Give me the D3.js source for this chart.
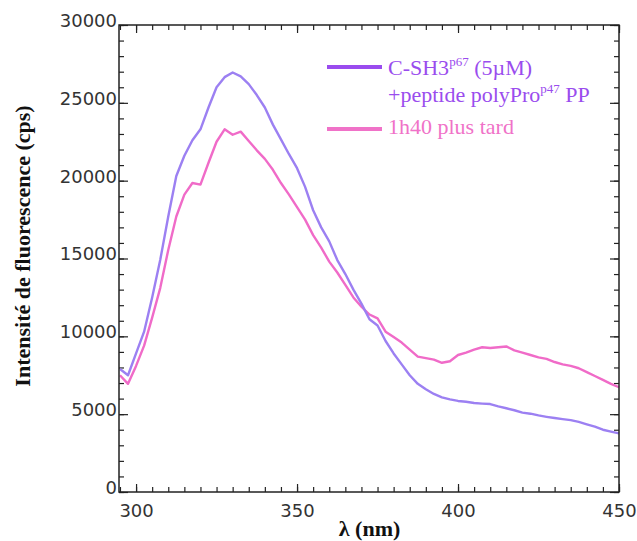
<!DOCTYPE html>
<html>
<head>
<meta charset="utf-8">
<script src="https://cdn.jsdelivr.net/npm/d3@7"></script>
<style>
  body { margin: 0; background: #ffffff; }
  svg { display: block; }
</style>
</head>
<body>
<div id="chart"></div>
<script>
"use strict";

// wavelengths (nm), one reading every 2.5 nm
const wavelengths = d3.range(295, 450.01, 2.5);

// C-SH3 p67 (5uM) + peptide polyPro p47 PP
const sh3Peptide = [
  7900, 7500, 8900, 10300, 12500, 14900, 17700, 20300, 21600, 22600,
  23300, 24700, 26000, 26650, 26950, 26700, 26200, 25500, 24700, 23600,
  22650, 21700, 20800, 19600, 18100, 17000, 16100, 14900, 14000, 13000,
  12100, 11100, 10700, 9700, 8900, 8200, 7500, 6950, 6600, 6300,
  6080, 5950, 5850, 5800, 5720, 5680, 5650, 5500, 5380, 5250,
  5100, 5030, 4920, 4830, 4750, 4680, 4620, 4500, 4350, 4200,
  4000, 3880, 3770
];

// 1h40 plus tard
const later = [
  7500, 6950, 8100, 9400, 11200, 13100, 15550, 17700, 19100, 19850,
  19750, 21150, 22500, 23300, 22950, 23150, 22550, 21950, 21400, 20700,
  19850, 19100, 18300, 17500, 16500, 15700, 14800, 14100, 13300, 12500,
  11900, 11400, 11150, 10300, 9950, 9600, 9150, 8700, 8600, 8500,
  8300, 8400, 8800, 8950, 9150, 9300, 9250, 9300, 9350, 9100,
  8950, 8800, 8650, 8550, 8350, 8200, 8100, 7950, 7700, 7450,
  7200, 6950, 6730
];

const xMajor = [300, 350, 400, 450];
const xMinor = d3.range(295, 450.01, 5);
const yMajor = [0, 5000, 10000, 15000, 20000, 25000, 30000];
const yMinor = d3.range(0, 30001, 1000);

const width = 637;
const height = 541;
const margin = {top: 25, right: 18, bottom: 49, left: 119};
const innerW = width - margin.left - margin.right;
const innerH = height - margin.top - margin.bottom;

const svg = d3.select("#chart")
    .append("svg")
    .attr("width", width)
    .attr("height", height);

const g = svg.append("g")
    .attr("transform", `translate(${margin.left},${margin.top})`);

const x = d3.scaleLinear()
    .domain([294.7, 450])
    .range([0, innerW]);

const y = d3.scaleLinear()
    .domain([0, 30000])
    .range([innerH, 0]);

// ticks, all pointing inward, on the four sides
function tickAxis(axis, where, size) {
  const a = g.append("g").attr("transform", where).call(axis.tickSize(size).tickFormat(""));
  a.select(".domain").remove();
  a.selectAll("line").attr("stroke", "#222").attr("stroke-width", 1.2);
  return a;
}
tickAxis(d3.axisBottom(x).tickValues(xMinor), `translate(0,${innerH})`, -5);
tickAxis(d3.axisBottom(x).tickValues(xMajor), `translate(0,${innerH})`, -8);
tickAxis(d3.axisTop(x).tickValues(xMinor), "translate(0,0)", -5);
tickAxis(d3.axisTop(x).tickValues(xMajor), "translate(0,0)", -8);
tickAxis(d3.axisLeft(y).tickValues(yMinor), "translate(0,0)", -5);
tickAxis(d3.axisLeft(y).tickValues(yMajor), "translate(0,0)", -9);
tickAxis(d3.axisRight(y).tickValues(yMinor), `translate(${innerW},0)`, -5);
tickAxis(d3.axisRight(y).tickValues(yMajor), `translate(${innerW},0)`, -9);

// tick labels
const xLab = g.append("g")
    .attr("transform", `translate(0,${innerH})`)
    .call(d3.axisBottom(x).tickValues(xMajor).tickSize(0).tickPadding(12).tickFormat(d3.format("d")));
xLab.select(".domain").remove();
xLab.selectAll("text")
    .style("font-family", "'DejaVu Sans', sans-serif")
    .style("font-size", "18px")
    .style("fill", "#333");

const yLab = g.append("g")
    .call(d3.axisLeft(y).tickValues(yMajor).tickSize(0).tickPadding(2).tickFormat(d3.format("d")));
yLab.select(".domain").remove();
yLab.selectAll("text")
    .attr("dy", "0.08em")
    .style("font-family", "'DejaVu Sans', sans-serif")
    .style("font-size", "18px")
    .style("fill", "#333");

// curves
const line = d3.line()
    .x((d, i) => x(wavelengths[i]))
    .y(d => y(d));

g.append("path")
    .datum(later)
    .attr("d", line)
    .attr("fill", "none")
    .attr("stroke", "#f06bc8")
    .attr("stroke-width", 2.4)
    .attr("stroke-linejoin", "round");

g.append("path")
    .datum(sh3Peptide)
    .attr("d", line)
    .attr("fill", "none")
    .attr("stroke", "#9c80f2")
    .attr("stroke-width", 2.4)
    .attr("stroke-linejoin", "round");

// frame
g.append("rect")
    .attr("x", 0)
    .attr("y", 0)
    .attr("width", innerW)
    .attr("height", innerH)
    .attr("fill", "none")
    .attr("stroke", "#222")
    .attr("stroke-width", 1.5);

// legend
const legend = svg.append("g").style("font-family", "'Liberation Serif', 'Times New Roman', serif").style("font-size", "22px");

legend.append("line")
    .attr("x1", 327).attr("x2", 382).attr("y1", 67).attr("y2", 67)
    .attr("stroke", "#9a4cee").attr("stroke-width", 4);
const t1 = legend.append("text").attr("x", 388).attr("y", 75).style("fill", "#9a4cee");
t1.append("tspan").text("C-SH3");
t1.append("tspan").attr("dy", -9).style("font-size", "13px").text("p67");
t1.append("tspan").attr("dy", 9).text(" (5\u00b5M)");

const t2 = legend.append("text").attr("x", 388).attr("y", 102).style("fill", "#9a4cee");
t2.append("tspan").text("+peptide polyPro");
t2.append("tspan").attr("dy", -9).style("font-size", "13px").text("p47");
t2.append("tspan").attr("dy", 9).text(" PP");

legend.append("line")
    .attr("x1", 327).attr("x2", 382).attr("y1", 129).attr("y2", 129)
    .attr("stroke", "#f072c8").attr("stroke-width", 4);
legend.append("text").attr("x", 388).attr("y", 134).style("fill", "#f072c8").text("1h40 plus tard");

// axis titles
svg.append("text")
    .attr("x", margin.left + x(375) - 8)
    .attr("y", 536)
    .attr("text-anchor", "middle")
    .style("font-family", "'Liberation Serif', serif")
    .style("font-weight", "bold")
    .style("font-size", "22px")
    .style("fill", "#111")
    .text("\u03bb (nm)");

svg.append("text")
    .attr("transform", "translate(30,246) rotate(-90)")
    .attr("text-anchor", "middle")
    .style("font-family", "'Liberation Serif', serif")
    .style("font-weight", "bold")
    .style("font-size", "22px")
    .style("fill", "#111")
    .text("Intensit\u00e9 de fluorescence (cps)");
</script>
</body>
</html>
